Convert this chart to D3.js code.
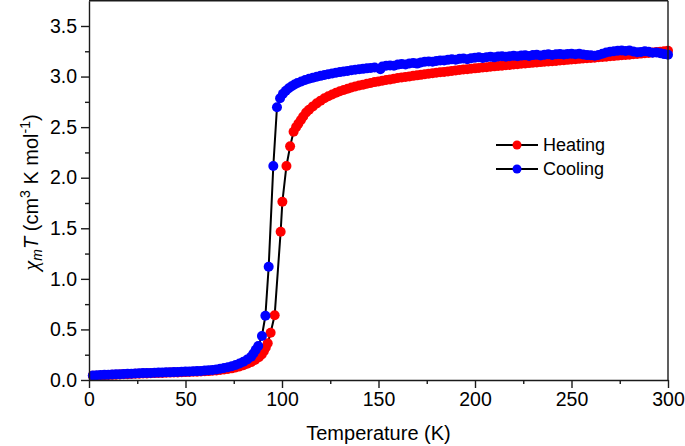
<!DOCTYPE html>
<html>
<head>
<meta charset="utf-8">
<script src="https://cdn.jsdelivr.net/npm/d3@7"></script>
<style>
  html, body { margin: 0; padding: 0; background: #fff; }
  svg { display: block; }
  text { font-family: "Liberation Sans", Arial, sans-serif; fill: #000; }
</style>
</head>
<body>
<svg id="chart" width="685" height="446"></svg>
<script>
// ---------------- data ----------------
const heatT = [2,4,6,8,10,12,14,16,18,20,22,24,26,28,30,32,34,36,38,40,42,44,46,48,50,52,54,56,58,60,62,64,66,68,70,72,74,76,78,80,82,84,86,88,89.5,90.6,91.6,92.6,94.1,96.2,99.3,100.2,102.3,104.2,106,107.3,108.5,109.8,111,112.5,114,116,118,120,122,124,126,128,130,132,134,136,138,140,142,144,146,148,
  150,152,154,156,158,160,162,164,166,168,170,172,174,176,178,180,182,184,186,188,190,192,194,196,198,200,202,204,206,208,210,212,214,216,218,220,222,224,226,228,230,232,234,236,238,240,242,244,246,248,250,252,254,256,258,260,262,264,266,268,270,272,274,276,278,280,282,284,286,288,290,292,294,296,298,300];
const heatChi = [0.041,0.043,0.045,0.047,0.049,0.051,0.053,0.055,0.056,0.058,0.059,0.061,0.062,0.064,0.065,0.066,0.068,0.069,0.070,0.071,0.073,0.074,0.075,0.077,0.078,0.079,0.081,0.082,0.084,0.086,0.088,0.091,0.094,0.098,0.103,0.108,0.115,0.123,0.133,0.145,0.160,0.177,0.198,0.226,0.252,0.285,0.322,0.363,0.468,0.640,1.466,1.763,2.116,2.310,2.455,2.500,2.535,2.570,2.605,2.645,2.672,2.705,2.735,2.762,2.785,2.805,2.823,2.840,2.855,2.868,2.880,2.891,2.901,2.911,2.920,2.929,2.937,2.945,
  2.952,2.959,2.966,2.972,2.979,2.985,2.990,2.996,3.001,3.007,3.012,3.017,3.022,3.027,3.032,3.037,3.042,3.046,3.051,3.056,3.060,3.064,3.069,3.073,3.077,3.081,3.085,3.089,3.093,3.097,3.101,3.105,3.108,3.112,3.115,3.119,3.122,3.126,3.129,3.133,3.136,3.139,3.143,3.146,3.149,3.152,3.155,3.159,3.162,3.165,3.168,3.171,3.175,3.178,3.181,3.184,3.187,3.191,3.194,3.197,3.200,3.203,3.207,3.210,3.213,3.216,3.220,3.223,3.227,3.230,3.234,3.238,3.242,3.246,3.250,3.254];

const coolT = [2,4,6,8,10,12,14,16,18,20,22,24,26,28,30,32,34,36,38,40,42,44,46,48,50,52,54,56,58,60,62,64,66,68,70,72,74,76,78,80,82,84,85.2,86.4,87.7,89.6,91.4,93.1,95.5,97.4,99,100.5,102,103.5,105,106.5,108,110,112,114,116,118,120,122,124,126,128,130,132,134,136,138,140,142,144,146,148,151,
  152,154,156,158,160,162,164,166,168,170,172,174,176,178,180,182,184,186,188,190,192,194,196,198,200,202,204,206,208,210,212,214,216,218,220,222,224,226,228,230,232,234,236,238,240,242,244,246,248,250,252,254,256,258,260,262,264,266,268,270,272,274,276,278,280,282,284,286,288,290,292,294,296,298,300];
const coolChi = [0.045,0.047,0.049,0.051,0.053,0.055,0.057,0.058,0.060,0.062,0.063,0.065,0.066,0.068,0.069,0.070,0.072,0.073,0.074,0.076,0.077,0.078,0.080,0.081,0.083,0.084,0.086,0.088,0.090,0.093,0.096,0.100,0.105,0.111,0.118,0.126,0.136,0.148,0.163,0.181,0.203,0.230,0.262,0.298,0.336,0.435,0.635,1.120,2.116,2.696,2.785,2.830,2.860,2.885,2.905,2.922,2.936,2.952,2.966,2.978,2.989,2.998,3.007,3.016,3.024,3.031,3.038,3.044,3.050,3.056,3.062,3.067,3.072,3.076,3.081,3.085,3.090,3.072,
  3.100,3.106,3.110,3.106,3.118,3.124,3.120,3.130,3.134,3.128,3.140,3.146,3.150,3.146,3.155,3.160,3.158,3.165,3.170,3.166,3.175,3.178,3.172,3.182,3.186,3.190,3.184,3.192,3.196,3.190,3.198,3.200,3.195,3.202,3.205,3.200,3.207,3.210,3.204,3.212,3.215,3.209,3.216,3.220,3.214,3.220,3.222,3.218,3.224,3.226,3.220,3.226,3.218,3.212,3.210,3.205,3.214,3.226,3.238,3.245,3.250,3.256,3.258,3.252,3.258,3.248,3.240,3.244,3.250,3.245,3.236,3.238,3.230,3.222,3.215];

const xTicks = [0, 50, 100, 150, 200, 250, 300];
const xMinor = [25, 75, 125, 175, 225, 275];
const yTicks = [0.0, 0.5, 1.0, 1.5, 2.0, 2.5, 3.0, 3.5];
const yMinor = [0.25, 0.75, 1.25, 1.75, 2.25, 2.75, 3.25];
const seriesNames = ["Heating", "Cooling"];
const seriesColors = ["#ff0000", "#0000ff"];

// ---------------- layout ----------------
const svg = d3.select("#chart");
const x = d3.scaleLinear().domain([0, 300]).range([89, 668]);
const y = d3.scaleLinear().domain([0, 3.75]).range([380, 0.7]);

const axisColor = "#1a1a1a";

// series
const series = [
  { name: seriesNames[0], color: seriesColors[0], data: heatT.map((t, i) => [t, heatChi[i]]) },
  { name: seriesNames[1], color: seriesColors[1], data: coolT.map((t, i) => [t, coolChi[i]]) }
];
const line = d3.line().x(d => x(d[0])).y(d => y(d[1]));

series.forEach(s => {
  svg.append("path").datum(s.data)
    .attr("d", line).attr("fill", "none")
    .attr("stroke", "#000").attr("stroke-width", 2);
  svg.append("g").selectAll("circle").data(s.data).join("circle")
    .attr("cx", d => x(d[0])).attr("cy", d => y(d[1]))
    .attr("r", 5).attr("fill", s.color);
});

// frame (top & right)
svg.append("line").attr("x1", x(0)).attr("x2", x(300)).attr("y1", y(3.75)).attr("y2", y(3.75))
  .attr("stroke", axisColor).attr("stroke-width", 1.4);
svg.append("line").attr("x1", x(300)).attr("x2", x(300)).attr("y1", y(3.75)).attr("y2", y(0))
  .attr("stroke", axisColor).attr("stroke-width", 1.4);

// bottom axis
svg.append("g").attr("transform", `translate(0,${y(0)})`)
  .call(d3.axisBottom(x).tickValues(xTicks).tickFormat(d3.format("d")).tickSize(8).tickSizeOuter(0).tickPadding(4));
svg.append("g").attr("transform", `translate(0,${y(0)})`)
  .call(d3.axisBottom(x).tickValues(xMinor).tickFormat("").tickSize(4).tickSizeOuter(0))
  .call(g => g.select(".domain").remove());

// left axis
svg.append("g").attr("transform", `translate(${x(0)},0)`)
  .call(d3.axisLeft(y).tickValues(yTicks).tickFormat(d3.format(".1f")).tickSize(8).tickSizeOuter(0).tickPadding(4));
svg.append("g").attr("transform", `translate(${x(0)},0)`)
  .call(d3.axisLeft(y).tickValues(yMinor).tickFormat("").tickSize(4).tickSizeOuter(0))
  .call(g => g.select(".domain").remove());

svg.selectAll(".domain, .tick line").attr("stroke", axisColor).attr("stroke-width", 1.4);
svg.selectAll(".tick text").style("font-family", '"Liberation Sans", Arial, sans-serif')
  .style("font-size", "19.5px").attr("fill", "#111");

// axis titles
svg.append("text").attr("x", (x(0) + x(300)) / 2).attr("y", 440)
  .attr("text-anchor", "middle").style("font-size", "20px").attr("fill", "#111")
  .text("Temperature (K)");

const yt = svg.append("text")
  .attr("transform", `translate(38,${(y(0) + y(3.75)) / 2 + 2}) rotate(-90)`)
  .attr("text-anchor", "middle").style("font-size", "20px").attr("fill", "#111");
yt.append("tspan").style("font-style", "italic").style("font-family", '"Liberation Serif", "DejaVu Serif", serif').style("font-size", "22px").text("χ");
yt.append("tspan").style("font-style", "italic").style("font-size", "14px").attr("dy", 4).text("m");
yt.append("tspan").style("font-style", "italic").attr("dy", -4).text("T");
yt.append("tspan").text(" (cm");
yt.append("tspan").style("font-size", "14px").attr("dy", -8).text("3");
yt.append("tspan").attr("dy", 8).text(" K mol");
yt.append("tspan").style("font-size", "14px").attr("dy", -8).text("-1");
yt.append("tspan").attr("dy", 8).text(")");

// legend
const legend = svg.append("g");
series.forEach((s, i) => {
  const ly = 145 + i * 24;
  legend.append("line").attr("x1", 496).attr("x2", 538).attr("y1", ly).attr("y2", ly)
    .attr("stroke", "#000").attr("stroke-width", 2);
  legend.append("circle").attr("cx", 517).attr("cy", ly).attr("r", 4.5).attr("fill", s.color);
  legend.append("text").attr("x", 543).attr("y", ly).attr("dy", "0.35em")
    .style("font-size", "18px").attr("fill", "#111").text(s.name);
});
</script>
</body>
</html>
